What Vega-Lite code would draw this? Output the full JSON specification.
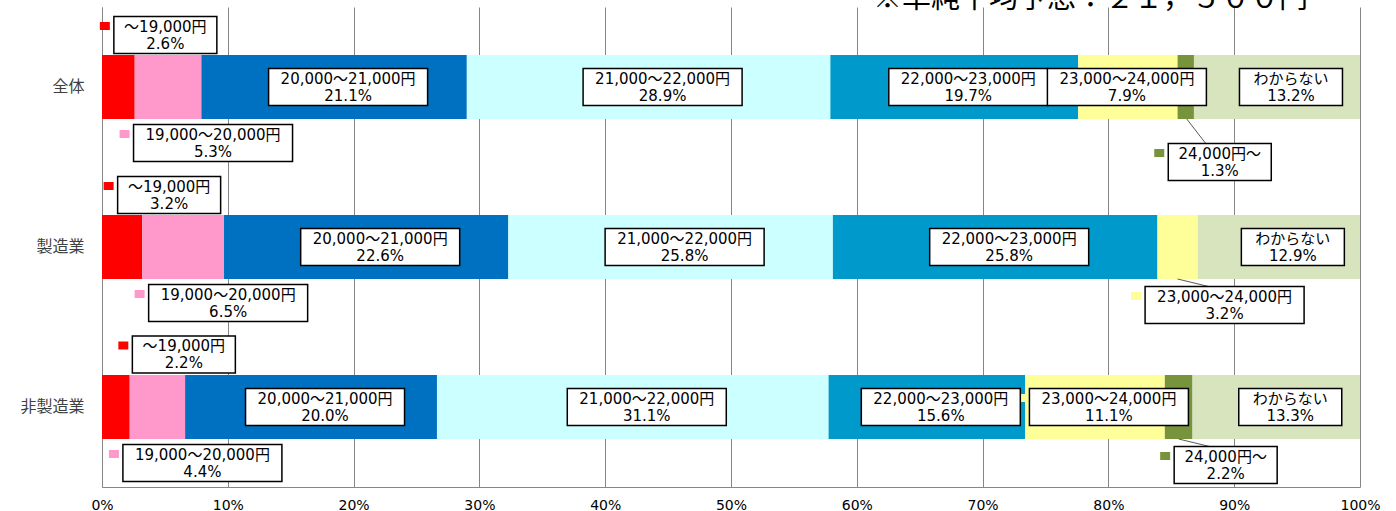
{
 "$schema": "https://vega.github.io/schema/vega-lite/v6.json",
 "width": 1258,
 "height": 480,
 "autosize": {"type": "none"},
 "padding": {"left": 102, "top": 7, "right": 36, "bottom": 24},
 "background": "white",
 "title": {"text": "※単純平均予想：２１，５００円", "anchor": "end", "frame": "group", "dx": -52, "dy": 30, "offset": 0, "baseline": "alphabetic", "font": "Noto Sans CJK JP", "fontSize": 29, "fontWeight": "normal", "color": "#000000"},
 "data": {"values": [
  {"category": "全体", "segment": "～19,000円", "value": 2.6},
  {"category": "全体", "segment": "19,000～20,000円", "value": 5.3},
  {"category": "全体", "segment": "20,000～21,000円", "value": 21.1},
  {"category": "全体", "segment": "21,000～22,000円", "value": 28.9},
  {"category": "全体", "segment": "22,000～23,000円", "value": 19.7},
  {"category": "全体", "segment": "23,000～24,000円", "value": 7.9},
  {"category": "全体", "segment": "24,000円～", "value": 1.3},
  {"category": "全体", "segment": "わからない", "value": 13.2},
  {"category": "製造業", "segment": "～19,000円", "value": 3.2},
  {"category": "製造業", "segment": "19,000～20,000円", "value": 6.5},
  {"category": "製造業", "segment": "20,000～21,000円", "value": 22.6},
  {"category": "製造業", "segment": "21,000～22,000円", "value": 25.8},
  {"category": "製造業", "segment": "22,000～23,000円", "value": 25.8},
  {"category": "製造業", "segment": "23,000～24,000円", "value": 3.2},
  {"category": "製造業", "segment": "わからない", "value": 12.9},
  {"category": "非製造業", "segment": "～19,000円", "value": 2.2},
  {"category": "非製造業", "segment": "19,000～20,000円", "value": 4.4},
  {"category": "非製造業", "segment": "20,000～21,000円", "value": 20.0},
  {"category": "非製造業", "segment": "21,000～22,000円", "value": 31.1},
  {"category": "非製造業", "segment": "22,000～23,000円", "value": 15.6},
  {"category": "非製造業", "segment": "23,000～24,000円", "value": 11.1},
  {"category": "非製造業", "segment": "24,000円～", "value": 2.2},
  {"category": "非製造業", "segment": "わからない", "value": 13.3}
 ]},
 "transform": [
  {"calculate": "indexof(['～19,000円','19,000～20,000円','20,000～21,000円','21,000～22,000円','22,000～23,000円','23,000～24,000円','24,000円～','わからない'], datum.segment)", "as": "ord"},
  {"stack": "value", "groupby": ["category"], "sort": [{"field": "ord", "order": "ascending"}], "offset": "normalize", "as": ["x0", "x1"]},
  {"calculate": "(datum.x0 + datum.x1) / 2", "as": "mid"},
  {"calculate": "datum.segment + '\\n' + format(datum.value, '.1f') + '%'", "as": "label"}
 ],
 "encoding": {
  "y": {"field": "category", "type": "nominal", "sort": ["全体", "製造業", "非製造業"], "scale": {"paddingInner": 0.6, "paddingOuter": 0.3}, "title": null}
 },
 "layer": [
  {"mark": {"type": "bar"},
   "encoding": {
    "x": {"field": "x0", "type": "quantitative", "scale": {"domain": [0, 1], "nice": false}, "title": null, "axis": {"values": [0, 0.1, 0.2, 0.3, 0.4, 0.5, 0.6, 0.7, 0.8, 0.9, 1], "format": ".0%"}},
    "x2": {"field": "x1"},
    "color": {"field": "segment", "type": "nominal", "scale": {"domain": ["～19,000円","19,000～20,000円","20,000～21,000円","21,000～22,000円","22,000～23,000円","23,000～24,000円","24,000円～","わからない"], "range": ["#FF0000","#FF99CC","#0070C0","#CCFFFF","#0099CC","#FFFF99","#77933C","#D7E4BD"]}, "legend": null}
   }},
  {"transform": [{"filter": "(datum.segment == '23,000～24,000円' && datum.category == '製造業') || (datum.segment == '24,000円～' && datum.category == '非製造業')"}],
   "mark": {"type": "point", "shape": "M0,0.32L0.31,0.395", "filled": false, "stroke": "#595959", "strokeWidth": 1, "size": 40000, "opacity": 1},
   "encoding": {"x": {"field": "mid", "type": "quantitative", "title": null}}},
  {"transform": [{"filter": "datum.segment == '24,000円～' && datum.category == '全体'"}],
   "mark": {"type": "point", "shape": "M0.01,0.32L0.2,0.565", "filled": false, "stroke": "#595959", "strokeWidth": 1, "size": 40000, "opacity": 1},
   "encoding": {"x": {"field": "mid", "type": "quantitative", "title": null}}},

  {"transform": [{"filter": "indexof(['20,000～21,000円','21,000～22,000円','22,000～23,000円','わからない'], datum.segment) >= 0 || (datum.segment == '23,000～24,000円' && datum.category == '非製造業')"}],
   "mark": {"type": "point", "filled": true, "opacity": 1, "strokeWidth": 0, "size": 40000, "xOffset": 14, "yOffset": 0},
   "encoding": {"x": {"field": "mid", "type": "quantitative", "title": null},
    "color": {"field": "segment", "type": "nominal", "legend": null},
    "shape": {"field": "segment", "type": "nominal", "legend": null, "scale": {"domain": ["～19,000円","19,000～20,000円","20,000～21,000円","21,000～22,000円","22,000～23,000円","23,000～24,000円","24,000円～","わからない"], "range": ["M-0.655,-0.13H-0.555V-0.05H-0.655Z","M-0.935,-0.13H-0.835V-0.05H-0.935Z","M-0.935,-0.13H-0.835V-0.05H-0.935Z","M-0.935,-0.13H-0.835V-0.05H-0.935Z","M-0.935,-0.13H-0.835V-0.05H-0.935Z","M-0.935,-0.13H-0.835V-0.05H-0.935Z","M-0.655,-0.13H-0.555V-0.05H-0.655Z","M-0.655,-0.13H-0.555V-0.05H-0.655Z"]}}}},
  {"transform": [{"filter": "indexof(['20,000～21,000円','21,000～22,000円','22,000～23,000円','わからない'], datum.segment) >= 0 || (datum.segment == '23,000～24,000円' && datum.category == '非製造業')"}],
   "mark": {"type": "point", "filled": true, "fill": "white", "stroke": "black", "strokeWidth": 1.5, "opacity": 1, "size": 40000, "xOffset": 14, "yOffset": 0},
   "encoding": {"x": {"field": "mid", "type": "quantitative", "title": null},
    "shape": {"field": "segment", "type": "nominal", "legend": null, "scale": {"domain": ["～19,000円","19,000～20,000円","20,000～21,000円","21,000～22,000円","22,000～23,000円","23,000～24,000円","24,000円～","わからない"], "range": ["M-0.515,-0.185H0.515V0.185H-0.515Z","M-0.795,-0.185H0.795V0.185H-0.795Z","M-0.795,-0.185H0.795V0.185H-0.795Z","M-0.795,-0.185H0.795V0.185H-0.795Z","M-0.795,-0.185H0.795V0.185H-0.795Z","M-0.795,-0.185H0.795V0.185H-0.795Z","M-0.515,-0.185H0.515V0.185H-0.515Z","M-0.515,-0.185H0.515V0.185H-0.515Z"]}}}},
  {"transform": [{"filter": "indexof(['20,000～21,000円','21,000～22,000円','22,000～23,000円','わからない'], datum.segment) >= 0 || (datum.segment == '23,000～24,000円' && datum.category == '非製造業')"}],
   "mark": {"type": "text", "font": "DejaVu Sans, Noto Sans CJK JP", "fontSize": 15, "lineBreak": "\n", "lineHeight": 17, "align": "center", "baseline": "middle", "dy": -8.5, "color": "#000000", "xOffset": 14, "yOffset": 0},
   "encoding": {"x": {"field": "mid", "type": "quantitative", "title": null}, "text": {"field": "label"}}},

  {"transform": [{"filter": "datum.segment == '23,000～24,000円' && datum.category == '全体'"}],
   "mark": {"type": "point", "filled": true, "fill": "white", "stroke": "black", "strokeWidth": 1.5, "opacity": 1, "size": 40000, "xOffset": -1, "yOffset": 0, "shape": "M-0.795,-0.185H0.795V0.185H-0.795Z"},
   "encoding": {"x": {"field": "mid", "type": "quantitative", "title": null}}},
  {"transform": [{"filter": "datum.segment == '23,000～24,000円' && datum.category == '全体'"}],
   "mark": {"type": "text", "font": "DejaVu Sans, Noto Sans CJK JP", "fontSize": 15, "lineBreak": "\n", "lineHeight": 17, "align": "center", "baseline": "middle", "dy": -8.5, "color": "#000000", "xOffset": -1, "yOffset": 0},
   "encoding": {"x": {"field": "mid", "type": "quantitative", "title": null}, "text": {"field": "label"}}},

  {"transform": [{"filter": "datum.segment == '～19,000円' && datum.category != '非製造業'"}],
   "mark": {"type": "point", "filled": true, "opacity": 1, "strokeWidth": 0, "size": 40000, "xOffset": 47, "yOffset": -52, "shape": "M-0.655,-0.13H-0.555V-0.05H-0.655Z"},
   "encoding": {"x": {"field": "mid", "type": "quantitative", "title": null}, "color": {"field": "segment", "type": "nominal", "legend": null}}},
  {"transform": [{"filter": "datum.segment == '～19,000円' && datum.category != '非製造業'"}],
   "mark": {"type": "point", "filled": true, "fill": "white", "stroke": "black", "strokeWidth": 1.5, "opacity": 1, "size": 40000, "xOffset": 47, "yOffset": -52, "shape": "M-0.515,-0.185H0.515V0.185H-0.515Z"},
   "encoding": {"x": {"field": "mid", "type": "quantitative", "title": null}}},
  {"transform": [{"filter": "datum.segment == '～19,000円' && datum.category != '非製造業'"}],
   "mark": {"type": "text", "font": "DejaVu Sans, Noto Sans CJK JP", "fontSize": 15, "lineBreak": "\n", "lineHeight": 17, "align": "center", "baseline": "middle", "dy": -8.5, "color": "#000000", "xOffset": 47, "yOffset": -52},
   "encoding": {"x": {"field": "mid", "type": "quantitative", "title": null}, "text": {"field": "label"}}},

  {"transform": [{"filter": "datum.segment == '～19,000円' && datum.category == '非製造業'"}],
   "mark": {"type": "point", "filled": true, "opacity": 1, "strokeWidth": 0, "size": 40000, "xOffset": 68, "yOffset": -52.5, "shape": "M-0.655,-0.13H-0.555V-0.05H-0.655Z"},
   "encoding": {"x": {"field": "mid", "type": "quantitative", "title": null}, "color": {"field": "segment", "type": "nominal", "legend": null}}},
  {"transform": [{"filter": "datum.segment == '～19,000円' && datum.category == '非製造業'"}],
   "mark": {"type": "point", "filled": true, "fill": "white", "stroke": "black", "strokeWidth": 1.5, "opacity": 1, "size": 40000, "xOffset": 68, "yOffset": -52.5, "shape": "M-0.515,-0.185H0.515V0.185H-0.515Z"},
   "encoding": {"x": {"field": "mid", "type": "quantitative", "title": null}}},
  {"transform": [{"filter": "datum.segment == '～19,000円' && datum.category == '非製造業'"}],
   "mark": {"type": "text", "font": "DejaVu Sans, Noto Sans CJK JP", "fontSize": 15, "lineBreak": "\n", "lineHeight": 17, "align": "center", "baseline": "middle", "dy": -8.5, "color": "#000000", "xOffset": 68, "yOffset": -52.5},
   "encoding": {"x": {"field": "mid", "type": "quantitative", "title": null}, "text": {"field": "label"}}},

  {"transform": [{"filter": "datum.segment == '19,000～20,000円'"}],
   "mark": {"type": "point", "filled": true, "opacity": 1, "strokeWidth": 0, "size": 40000, "xOffset": 45, "yOffset": 56, "shape": "M-0.935,-0.13H-0.835V-0.05H-0.935Z"},
   "encoding": {"x": {"field": "mid", "type": "quantitative", "title": null}, "color": {"field": "segment", "type": "nominal", "legend": null}}},
  {"transform": [{"filter": "datum.segment == '19,000～20,000円'"}],
   "mark": {"type": "point", "filled": true, "fill": "white", "stroke": "black", "strokeWidth": 1.5, "opacity": 1, "size": 40000, "xOffset": 45, "yOffset": 56, "shape": "M-0.795,-0.185H0.795V0.185H-0.795Z"},
   "encoding": {"x": {"field": "mid", "type": "quantitative", "title": null}}},
  {"transform": [{"filter": "datum.segment == '19,000～20,000円'"}],
   "mark": {"type": "text", "font": "DejaVu Sans, Noto Sans CJK JP", "fontSize": 15, "lineBreak": "\n", "lineHeight": 17, "align": "center", "baseline": "middle", "dy": -8.5, "color": "#000000", "xOffset": 45, "yOffset": 56},
   "encoding": {"x": {"field": "mid", "type": "quantitative", "title": null}, "text": {"field": "label"}}},

  {"transform": [{"filter": "(datum.segment == '23,000～24,000円' && datum.category == '製造業') || (datum.segment == '24,000円～' && datum.category == '非製造業')"}],
   "mark": {"type": "point", "filled": true, "opacity": 1, "strokeWidth": 0, "size": 40000, "xOffset": 47, "yOffset": 58},
   "encoding": {"x": {"field": "mid", "type": "quantitative", "title": null},
    "color": {"field": "segment", "type": "nominal", "legend": null},
    "shape": {"field": "segment", "type": "nominal", "legend": null, "scale": {"domain": ["23,000～24,000円","24,000円～"], "range": ["M-0.935,-0.13H-0.835V-0.05H-0.935Z","M-0.655,-0.13H-0.555V-0.05H-0.655Z"]}}}},
  {"transform": [{"filter": "(datum.segment == '23,000～24,000円' && datum.category == '製造業') || (datum.segment == '24,000円～' && datum.category == '非製造業')"}],
   "mark": {"type": "point", "filled": true, "fill": "white", "stroke": "black", "strokeWidth": 1.5, "opacity": 1, "size": 40000, "xOffset": 47, "yOffset": 58},
   "encoding": {"x": {"field": "mid", "type": "quantitative", "title": null},
    "shape": {"field": "segment", "type": "nominal", "legend": null, "scale": {"domain": ["23,000～24,000円","24,000円～"], "range": ["M-0.795,-0.185H0.795V0.185H-0.795Z","M-0.515,-0.185H0.515V0.185H-0.515Z"]}}}},
  {"transform": [{"filter": "(datum.segment == '23,000～24,000円' && datum.category == '製造業') || (datum.segment == '24,000円～' && datum.category == '非製造業')"}],
   "mark": {"type": "text", "font": "DejaVu Sans, Noto Sans CJK JP", "fontSize": 15, "lineBreak": "\n", "lineHeight": 17, "align": "center", "baseline": "middle", "dy": -8.5, "color": "#000000", "xOffset": 47, "yOffset": 58},
   "encoding": {"x": {"field": "mid", "type": "quantitative", "title": null}, "text": {"field": "label"}}},

  {"transform": [{"filter": "datum.segment == '24,000円～' && datum.category == '全体'"}],
   "mark": {"type": "point", "filled": true, "opacity": 1, "strokeWidth": 0, "size": 40000, "xOffset": 34, "yOffset": 75, "shape": "M-0.655,-0.13H-0.555V-0.05H-0.655Z"},
   "encoding": {"x": {"field": "mid", "type": "quantitative", "title": null}, "color": {"field": "segment", "type": "nominal", "legend": null}}},
  {"transform": [{"filter": "datum.segment == '24,000円～' && datum.category == '全体'"}],
   "mark": {"type": "point", "filled": true, "fill": "white", "stroke": "black", "strokeWidth": 1.5, "opacity": 1, "size": 40000, "xOffset": 34, "yOffset": 75, "shape": "M-0.515,-0.185H0.515V0.185H-0.515Z"},
   "encoding": {"x": {"field": "mid", "type": "quantitative", "title": null}}},
  {"transform": [{"filter": "datum.segment == '24,000円～' && datum.category == '全体'"}],
   "mark": {"type": "text", "font": "DejaVu Sans, Noto Sans CJK JP", "fontSize": 15, "lineBreak": "\n", "lineHeight": 17, "align": "center", "baseline": "middle", "dy": -8.5, "color": "#000000", "xOffset": 34, "yOffset": 75},
   "encoding": {"x": {"field": "mid", "type": "quantitative", "title": null}, "text": {"field": "label"}}}
 ],
 "resolve": {"scale": {"shape": "independent"}},
 "config": {
  "view": {"stroke": null},
  "axisX": {"grid": true, "gridColor": "#868686", "gridWidth": 1, "domainColor": "#868686", "ticks": false, "labelFont": "DejaVu Sans", "labelFontSize": 14, "labelColor": "#000000", "labelPadding": 11, "labelFlush": false},
  "axisY": {"ticks": false, "grid": false, "domainColor": "#868686", "labelFont": "Noto Sans CJK JP", "labelFontSize": 16, "labelColor": "#404040", "labelPadding": 18}
 }
}
